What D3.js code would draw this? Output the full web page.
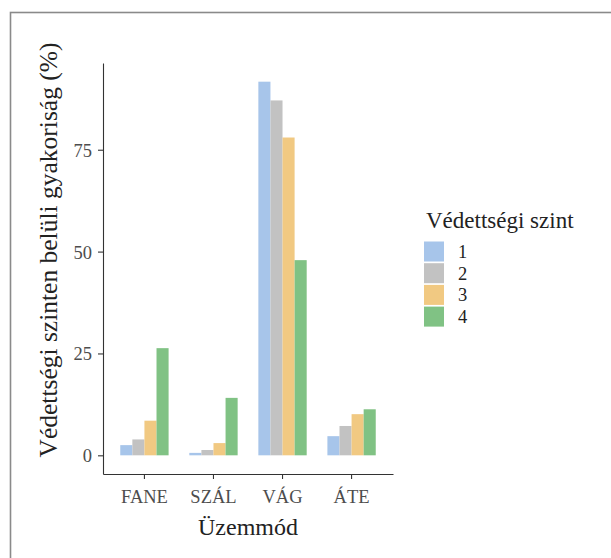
<!DOCTYPE html>
<html>
<head>
<meta charset="utf-8">
<script src="https://cdn.jsdelivr.net/npm/d3@7"></script>
<style>
  html, body { margin: 0; padding: 0; background: #fff; }
  svg { display: block; }
  svg text { font-family: "Liberation Serif", "DejaVu Serif", serif; }
</style>
</head>
<body>
<svg id="chart" width="611" height="558"></svg>
<script>
// Share of each management mode within each protection level (%)
const modes = ["FANE", "SZÁL", "VÁG", "ÁTE"];
const levels = ["1", "2", "3", "4"];
const level1 = [2.5, 0.6, 91.7, 4.7];
const level2 = [3.9, 1.3, 87.1, 7.2];
const level3 = [8.5, 3.0, 78.0, 10.1];
const level4 = [26.3, 14.1, 47.9, 11.3];
const yTicks = [0, 25, 50, 75];
const colors = ["#a7c5ea", "#c2c2c2", "#f1c982", "#80c284"];

const seriesValues = [level1, level2, level3, level4];
const rows = [];
modes.forEach((m, i) => levels.forEach((l, j) => rows.push({ mode: m, level: l, value: seriesValues[j][i] })));

const FONT = "'Liberation Serif', 'DejaVu Serif', serif";
const svg = d3.select("#chart");

// outer frame
svg.append("rect")
  .attr("x", 10.5).attr("y", 12.5)
  .attr("width", 640).attr("height", 600)
  .attr("fill", "none").attr("stroke", "#8a8a8a").attr("stroke-width", 1.6);

const plot = { left: 103, right: 393, top: 63, bottom: 474 };

const dataMax = d3.max(rows, d => d.value);
const pad = dataMax * 0.05;
const y = d3.scaleLinear().domain([-pad, dataMax + pad]).range([plot.bottom, plot.top]);

const x = d3.scaleBand().domain(modes).range([plot.left, plot.right])
  .paddingInner(0.3).paddingOuter(0.25);
const xInner = d3.scaleBand().domain(levels).range([0, x.bandwidth()]);
const color = d3.scaleOrdinal().domain(levels).range(colors);

// bars
svg.append("g").selectAll("rect")
  .data(rows).join("rect")
  .attr("x", d => x(d.mode) + xInner(d.level))
  .attr("width", xInner.bandwidth())
  .attr("y", d => y(d.value))
  .attr("height", d => y(0) - y(d.value))
  .attr("fill", d => color(d.level));

// axes
const axisColor = "#333";
const yAxis = svg.append("g")
  .attr("transform", `translate(${plot.left},0)`)
  .call(d3.axisLeft(y).tickValues(yTicks).tickSize(5).tickPadding(6).tickSizeOuter(0));
const xAxis = svg.append("g")
  .attr("transform", `translate(0,${plot.bottom})`)
  .call(d3.axisBottom(x).tickSize(5).tickPadding(6).tickSizeOuter(0));

[yAxis, xAxis].forEach(a => {
  a.attr("font-family", FONT);
  a.select(".domain").attr("stroke", axisColor).attr("stroke-width", 1.1);
  a.selectAll(".tick line").attr("stroke", axisColor).attr("stroke-width", 1.1);
  a.selectAll(".tick text").attr("fill", "#4d4d4d")
    .attr("font-family", FONT).attr("font-size", 18.5);
});
xAxis.selectAll(".tick text").attr("dy", "0.95em");
yAxis.selectAll(".tick text").attr("dy", "0.35em");

// axis titles
svg.append("text")
  .attr("x", (plot.left + plot.right) / 2)
  .attr("y", 535)
  .attr("text-anchor", "middle")
  .attr("fill", "#222")
  .attr("font-family", FONT).attr("font-size", 24)
  .text("Üzemmód");

svg.append("text")
  .attr("transform", "translate(57,250) rotate(-90)")
  .attr("text-anchor", "middle")
  .attr("fill", "#222")
  .attr("font-family", FONT).attr("font-size", 25.5)
  .text("Védettségi szinten belüli gyakoriság (%)");

// legend
const legend = svg.append("g").attr("transform", "translate(424,228)");
legend.append("text")
  .attr("x", 2).attr("y", 0)
  .attr("fill", "#222")
  .attr("font-family", FONT).attr("font-size", 23)
  .text("Védettségi szint");
const keyStep = 21.7;
const item = legend.selectAll("g.item").data(levels).join("g")
  .attr("class", "item")
  .attr("transform", (d, i) => `translate(0,${13.5 + i * keyStep})`);
item.append("rect")
  .attr("width", 20).attr("height", 20)
  .attr("fill", d => color(d));
item.append("text")
  .attr("x", 34).attr("y", 10).attr("dy", "0.35em")
  .attr("fill", "#222")
  .attr("font-family", FONT).attr("font-size", 18.5)
  .text(d => d);
</script>
</body>
</html>
